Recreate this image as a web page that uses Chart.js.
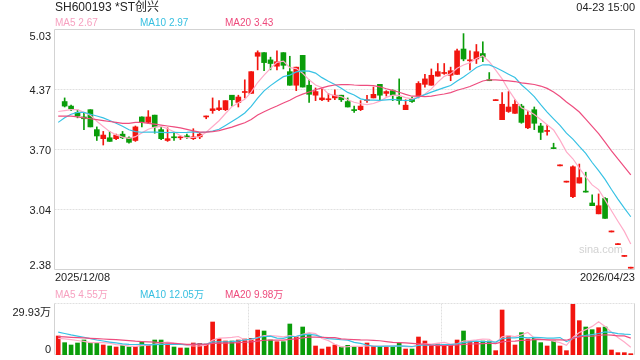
<!DOCTYPE html>
<html><head><meta charset="utf-8">
<script src="https://cdn.jsdelivr.net/npm/chart.js@4.4.1/dist/chart.umd.min.js"></script>
<style>
html,body{margin:0;padding:0;background:#fff}
#wrap{position:relative;width:640px;height:360px;overflow:hidden;font-family:"Liberation Sans",Arial,"Noto Sans CJK SC",sans-serif;color:#222}
.t{position:absolute;white-space:nowrap;line-height:1}
canvas{position:absolute;left:0}
</style></head><body>
<div id="wrap">
<canvas id="main" width="640" height="280" style="top:0"></canvas>
<canvas id="vol" width="640" height="80" style="top:280px"></canvas>
<div class="t" style="left:55px;top:1px;font-size:12px">SH600193 *ST创兴</div>
<div class="t" style="right:5px;top:2px;font-size:11px">04-23 15:00</div>
<div class="t" style="left:55px;top:18px;font-size:10px;color:#f7a1c0">MA5 2.67</div>
<div class="t" style="left:140px;top:18px;font-size:10px;color:#35bfe0">MA10 2.97</div>
<div class="t" style="left:225px;top:18px;font-size:10px;color:#ee4a7c">MA20 3.43</div>
<div class="t" id="d0" style="left:55px;top:272px;font-size:11px"></div>
<div class="t" id="d1" style="right:5px;top:272px;font-size:11px"></div>
<div class="t" style="left:55px;top:290px;font-size:10px;color:#f7a1c0">MA5 4.55万</div>
<div class="t" style="left:140px;top:290px;font-size:10px;color:#35bfe0">MA10 12.05万</div>
<div class="t" style="left:225px;top:290px;font-size:10px;color:#ee4a7c">MA20 9.98万</div>
<div class="t" style="right:17px;top:244px;font-size:11px;color:#d2d2d2">sina.com</div>
</div>
<script>
const dates = [
'2025/12/08','2025/12/09','2025/12/10','2025/12/11','2025/12/12','2025/12/15','2025/12/16','2025/12/17','2025/12/18','2025/12/19',
'2025/12/22','2025/12/23','2025/12/24','2025/12/25','2025/12/26','2025/12/29','2025/12/30','2025/12/31',
'2026/01/05','2026/01/06','2026/01/07','2026/01/08','2026/01/09','2026/01/12','2026/01/13','2026/01/14','2026/01/15','2026/01/16',
'2026/01/19','2026/01/20','2026/01/21','2026/01/22','2026/01/23','2026/01/26','2026/01/27','2026/01/28','2026/01/29','2026/01/30',
'2026/02/02','2026/02/03','2026/02/04','2026/02/05','2026/02/06','2026/02/09','2026/02/10','2026/02/11','2026/02/12','2026/02/13',
'2026/02/24','2026/02/25','2026/02/26','2026/02/27',
'2026/03/02','2026/03/03','2026/03/04','2026/03/05','2026/03/06','2026/03/09','2026/03/10','2026/03/11','2026/03/12','2026/03/13',
'2026/03/16','2026/03/17','2026/03/18','2026/03/19','2026/03/20','2026/03/23','2026/03/24','2026/03/25','2026/03/26','2026/03/27',
'2026/03/30','2026/03/31',
'2026/04/01','2026/04/02','2026/04/03','2026/04/07','2026/04/08','2026/04/09','2026/04/10','2026/04/13','2026/04/14','2026/04/15',
'2026/04/16','2026/04/17','2026/04/20','2026/04/21','2026/04/22','2026/04/23'
];
const opens = [null,
4.24,4.19,4.12,4.07,4.15,3.93,3.83,3.84,3.83,3.88,
3.84,3.81,4.07,4.01,4.09,3.93,3.81,3.85,3.84,3.86,
3.83,3.85,4.07,4.14,4.15,4.15,4.31,4.23,4.34,4.33,
4.74,4.78,4.70,4.63,4.78,4.57,4.42,4.75,4.42,4.31,
4.26,4.26,4.28,4.31,4.24,4.15,4.15,4.25,4.28,4.43,
4.33,4.36,4.29,4.15,4.27,4.30,4.43,4.42,4.52,4.55,
4.53,4.54,4.82,4.69,4.71,4.77,4.48,4.25,4.04,4.13,
4.11,4.19,3.95,4.15,3.97,3.91,3.73,3.53,3.35,3.19,
3.34,3.25,3.12,3.00,3.17,2.80,2.66,2.53,2.40];
const highs = [null,
4.28,4.20,4.15,4.11,4.15,3.96,3.91,3.91,3.88,3.91,
3.85,3.97,4.07,4.14,4.09,3.96,3.95,3.89,3.86,3.88,
3.94,3.89,4.08,4.28,4.25,4.25,4.31,4.31,4.48,4.57,
4.80,4.78,4.73,4.80,4.78,4.74,4.62,4.75,4.48,4.39,
4.38,4.33,4.37,4.31,4.28,4.19,4.25,4.31,4.40,4.43,
4.36,4.37,4.49,4.26,4.29,4.46,4.54,4.60,4.66,4.66,
4.62,4.82,4.99,4.80,4.87,4.90,4.56,4.25,4.34,4.35,
4.26,4.21,4.13,4.18,4.00,3.98,3.78,3.53,3.35,3.53,
3.55,3.46,3.21,3.22,3.18,2.80,2.66,2.53,2.40];
const lows = [null,
4.18,4.14,4.06,3.93,3.96,3.81,3.76,3.80,3.82,3.83,
3.78,3.80,3.96,4.00,3.89,3.82,3.80,3.81,3.82,3.83,
3.82,3.83,4.05,4.11,4.14,4.14,4.19,4.18,4.28,4.33,
4.59,4.58,4.59,4.59,4.60,4.42,4.36,4.40,4.23,4.25,
4.25,4.24,4.26,4.24,4.18,4.12,4.14,4.23,4.28,4.26,
4.30,4.25,4.21,4.15,4.23,4.28,4.40,4.42,4.52,4.54,
4.47,4.54,4.69,4.59,4.66,4.68,4.47,4.25,4.04,4.12,
4.11,4.00,3.94,3.93,3.82,3.87,3.72,3.53,3.35,3.18,
3.34,3.24,3.09,3.00,2.95,2.80,2.66,2.53,2.40];
const closes = [null,
4.19,4.16,4.08,4.05,3.96,3.86,3.87,3.80,3.87,3.84,
3.79,3.96,4.01,4.07,3.96,3.83,3.83,3.84,3.85,3.85,
3.85,3.88,4.08,4.16,4.17,4.25,4.26,4.29,4.35,4.57,
4.78,4.67,4.66,4.68,4.64,4.42,4.62,4.40,4.32,4.35,
4.28,4.27,4.31,4.26,4.18,4.14,4.19,4.26,4.32,4.31,
4.35,4.31,4.25,4.20,4.24,4.44,4.49,4.53,4.57,4.56,
4.58,4.80,4.71,4.70,4.79,4.73,4.47,4.25,4.21,4.18,
4.21,4.01,4.09,4.00,3.90,3.92,3.72,3.53,3.35,3.52,
3.40,3.24,3.09,3.09,2.95,2.80,2.66,2.53,2.40];
// volume in 万 (10k shares)
const volumes = [
11.15,7.24,5.87,7.04,8.80,7.24,7.43,5.87,5.28,4.69,
5.67,4.69,4.89,7.63,5.87,8.80,8.80,6.46,4.69,4.11,
4.11,7.04,6.85,6.46,19.37,9.59,8.22,8.22,8.80,9.39,
9.78,14.67,14.08,8.80,7.82,7.82,18.19,10.76,16.43,12.32,
5.28,3.52,4.69,5.87,4.69,5.67,4.69,4.69,7.04,5.09,
4.89,4.69,4.69,7.04,3.52,3.52,10.56,8.22,5.87,6.46,
5.87,5.67,8.80,14.08,7.82,7.82,8.22,8.22,2.54,26.41,
11.15,5.87,13.11,9.39,10.17,7.24,5.28,8.22,5.28,2.54,
29.93,20.15,16.43,14.87,16.04,16.43,2.93,1.37,1.37,0.78];
// moving-average values before a full window is available
const ma5Head  = [4.13,4.14,4.15,4.15,4.12];
const ma10Head = [4.01,4.06,4.10,4.12,4.12,4.10,4.08,4.06,4.03,4.00];
const ma20Head = [4.08,4.08,4.08,4.07,4.06,4.05,4.04,4.03,4.02,4.01,4.00,4.00,4.01,4.01,4.00,3.99,3.98,3.97,3.96,3.95];
const vma5Head  = [9.8,9.5,9.0,8.5];
const vma10Head = [13.4,12.6,11.8,11.1,10.4,9.6,8.8,8.2,7.6];
const vma20Head = [10.8,10.6,10.4,10.2,10.0,9.8,9.6,9.4,9.2,9.0,8.7,8.4,8.1,7.9,7.7,7.5,7.2,7.0,6.8];
const priceTicks = [2.38,3.04,3.70,4.37,5.03];
const volTicks = [0,29.93];
const volTickLabels = ['0','29.93万'];

const RED='#f2150f', GREEN='#0a9d0a';
const C5='#ffabc8', C10='#38c2e4', C20='#ee4d7f';
const FRAME='#d3d3d3', GRID='#e0e0e0';

function movingAverage(src,n,head){
  return src.map((_,i)=>{
    if(i<head.length) return head[i];
    let s=0; for(let k=i-n+1;k<=i;k++) s+=src[k];
    return s/n;
  });
}
const isUp = dates.map((_,i)=> opens[i]==null ? true : closes[i]>=opens[i]);
const candleColors = isUp.map(u=>u?RED:GREEN);
const bodies = dates.map((_,i)=> opens[i]==null?null:[opens[i],closes[i]]);
const wicks  = dates.map((_,i)=> opens[i]==null?null:[lows[i],highs[i]]);

document.getElementById('d0').textContent = dates[0];
document.getElementById('d1').textContent = dates[dates.length-1];

function panelPlugin(cfg){
  return {
    id:'panel'+cfg.name,
    beforeDatasetsDraw(chart){
      const {ctx, chartArea:a, scales:{y}} = chart;
      const L=a.left-0.5, R=a.right+0.5, T=Math.round(a.top)-0.5, B=Math.round(a.bottom)-0.5;
      const seg=(x1,y1,x2,y2)=>{ctx.beginPath();ctx.moveTo(x1,y1);ctx.lineTo(x2,y2);ctx.stroke();};
      ctx.save(); ctx.lineWidth=1;
      ctx.strokeStyle=GRID; ctx.setLineDash([2,1]);
      cfg.dotted.forEach(v=>{const py=Math.round(y.getPixelForValue(v))-0.5; seg(L,py,R,py);});
      (cfg.vFrac||[]).forEach(f=>{const px=Math.round(a.left+(a.right-a.left)*f)+0.5; seg(px,T,px,B);});
      ctx.setLineDash([]); ctx.strokeStyle=FRAME;
      seg(L,T,L,B); seg(R,T,R,B);
      if(cfg.solidTB){ seg(L,T,R,T); seg(L,B,R,B); }
      ctx.restore();
    },
    afterDraw(chart){
      const {ctx, chartArea:a, scales:{y}} = chart;
      ctx.save();
      ctx.font='11px "Liberation Sans", Arial, "Noto Sans CJK SC", sans-serif';
      ctx.fillStyle='#222'; ctx.textAlign='right'; ctx.textBaseline='alphabetic';
      cfg.ticks.forEach((v,i)=>{
        let py=y.getPixelForValue(v);
        if(v===y.max) py+=cfg.inTop;
        if(v===y.min) py-=cfg.inBottom;
        ctx.fillText(cfg.labels[i], a.left-4, py+4);
      });
      ctx.restore();
    }
  };
}

function lineDs(data,color){
  return {type:'line',data,borderColor:color,borderWidth:1.2,pointRadius:0,tension:0,fill:false,order:0};
}

new Chart(document.getElementById('main'),{
  type:'bar',
  data:{labels:dates,datasets:[
    lineDs(movingAverage(closes,20,ma20Head),C20),
    lineDs(movingAverage(closes,10,ma10Head),C10),
    lineDs(movingAverage(closes,5,ma5Head),C5),
    {data:bodies,backgroundColor:candleColors,barThickness:5,minBarLength:1,grouped:false,order:1},
    {data:wicks,backgroundColor:candleColors,barThickness:1,minBarLength:1,grouped:false,order:2}
  ]},
  options:{
    responsive:false,animation:false,devicePixelRatio:1,events:[],
    layout:{padding:{left:55,right:6,top:30,bottom:10}},
    scales:{x:{display:false,offset:true},y:{display:false,min:2.38,max:5.03}},
    plugins:{legend:{display:false},tooltip:{enabled:false}}
  },
  plugins:[panelPlugin({name:'main',dotted:[3.04,3.70,4.37],solidTB:true,ticks:priceTicks,labels:priceTicks.map(v=>v.toFixed(2)),inTop:5.5,inBottom:5.5})]
});

new Chart(document.getElementById('vol'),{
  type:'bar',
  data:{labels:dates,datasets:[
    lineDs(movingAverage(volumes,20,vma20Head),C20),
    lineDs(movingAverage(volumes,10,vma10Head),C10),
    lineDs(movingAverage(volumes,5,vma5Head),C5),
    {data:volumes,backgroundColor:candleColors,barThickness:4,grouped:false,order:1}
  ]},
  options:{
    responsive:false,animation:false,devicePixelRatio:1,events:[],
    layout:{padding:{left:55,right:6,top:24,bottom:5}},
    scales:{x:{display:false,offset:true},y:{display:false,min:0,max:29.93}},
    plugins:{legend:{display:false},tooltip:{enabled:false}}
  },
  plugins:[panelPlugin({name:'vol',dotted:[0,29.93],vFrac:[1/3,2/3],solidTB:false,ticks:volTicks,labels:volTickLabels,inTop:7.5,inBottom:6})]
});
</script>
</body></html>
